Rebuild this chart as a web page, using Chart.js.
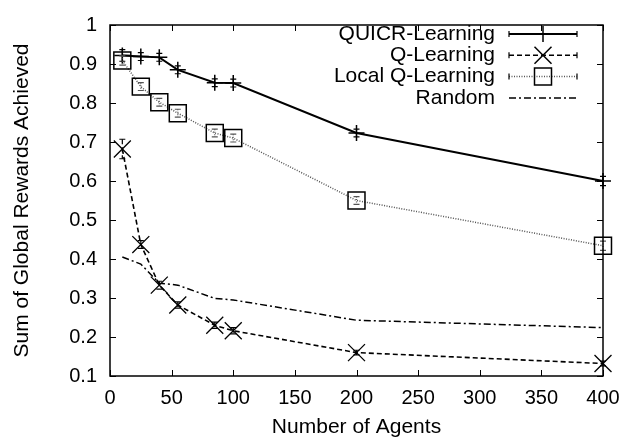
<!DOCTYPE html>
<html lang="en">
<head>
<meta charset="UTF-8">
<title>Global Rewards vs Number of Agents</title>
<script src="https://cdn.jsdelivr.net/npm/chart.js@4"></script>
<style>
    html, body { margin: 0; padding: 0; background: #fff; }
    #wrap { width: 644px; height: 440px; }
</style>
</head>
<body>
<div id="wrap"><canvas id="chart" width="644" height="440"></canvas></div>

<script>
    // values
    const agents = [10, 25, 40, 55, 85, 100, 200, 400];
    const quicr = [0.922, 0.919, 0.917, 0.885, 0.852, 0.851, 0.723, 0.600];
    const quicrErr = [0.015, 0.01, 0.01, 0.01, 0.01, 0.01, 0.01, 0.012];
    const qLearning = [0.682, 0.437, 0.333, 0.282, 0.230, 0.216, 0.160, 0.132];
    const qLearningErr = [0.025, 0.01, 0.01, 0.008, 0.008, 0.008, 0.006, 0.006];
    const localQ = [0.909, 0.842, 0.802, 0.774, 0.723, 0.710, 0.550, 0.434];
    const localQErr = [0.012, 0.01, 0.01, 0.01, 0.01, 0.01, 0.01, 0.012];
    const random = [0.405, 0.387, 0.338, 0.333, 0.299, 0.295, 0.243, 0.224];
    const seriesNames = ['QUICR-Learning', 'Q-Learning', 'Local Q-Learning', 'Random'];

    const FONT = '"Liberation Sans", Arial, Helvetica, sans-serif';

    function pts(vals) {
        return agents.map((a, i) => ({ x: a, y: vals[i] }));
    }

    function marker(ctx, style, x, y) {
        ctx.beginPath();
        if (style === 'cross') {
            ctx.moveTo(x - 8, y); ctx.lineTo(x + 8, y);
            ctx.moveTo(x, y - 8); ctx.lineTo(x, y + 8);
        } else if (style === 'crossRot') {
            ctx.moveTo(x - 8.5, y - 8.5); ctx.lineTo(x + 8.5, y + 8.5);
            ctx.moveTo(x + 8.5, y - 8.5); ctx.lineTo(x - 8.5, y + 8.5);
        } else if (style === 'rect') {
            ctx.rect(x - 8.5, y - 8.5, 17, 17);
        }
        ctx.stroke();
    }

    // error bars, drawn in the series' own line style
    const errorBars = {
        id: 'errorBars',
        afterDatasetsDraw(chart) {
            const ctx = chart.ctx;
            const xs = chart.scales.x, ys = chart.scales.y;
            ctx.save();
            chart.data.datasets.forEach(ds => {
                if (!ds.errors) return;
                ctx.strokeStyle = ds.borderColor;
                ctx.lineWidth = 1.2;
                ds.errors.forEach((e, i) => {
                    const px = xs.getPixelForValue(agents[i]);
                    const top = ys.getPixelForValue(ds.raw[i] + e);
                    const bot = ys.getPixelForValue(ds.raw[i] - e);
                    ctx.setLineDash(ds.borderDash);
                    ctx.beginPath();
                    ctx.moveTo(px, top); ctx.lineTo(px, bot);
                    ctx.stroke();
                    ctx.setLineDash([]);
                    ctx.beginPath();
                    ctx.moveTo(px - 3, top); ctx.lineTo(px + 3, top);
                    ctx.moveTo(px - 3, bot); ctx.lineTo(px + 3, bot);
                    ctx.stroke();
                });
            });
            ctx.restore();
        }
    };

    // border box with inward ticks on all four sides
    const frame = {
        id: 'frame',
        afterDraw(chart) {
            const ctx = chart.ctx;
            const a = chart.chartArea;
            const xs = chart.scales.x, ys = chart.scales.y;
            ctx.save();
            ctx.strokeStyle = '#000';
            ctx.lineWidth = 1.5;
            ctx.setLineDash([]);
            ctx.strokeRect(a.left, a.top, a.right - a.left, a.bottom - a.top);
            ctx.beginPath();
            xs.ticks.forEach(t => {
                const px = Math.round(xs.getPixelForValue(t.value)) + 0.5;
                ctx.moveTo(px, a.bottom); ctx.lineTo(px, a.bottom - 6);
                ctx.moveTo(px, a.top); ctx.lineTo(px, a.top + 6);
            });
            ys.ticks.forEach(t => {
                const py = Math.round(ys.getPixelForValue(t.value)) + 0.5;
                ctx.moveTo(a.left, py); ctx.lineTo(a.left + 6, py);
                ctx.moveTo(a.right, py); ctx.lineTo(a.right - 6, py);
            });
            ctx.lineWidth = 1;
            ctx.stroke();
            ctx.restore();
        }
    };

    // legend in the upper right, text on the left of the sample
    const keyBox = {
        id: 'keyBox',
        afterDraw(chart) {
            const ctx = chart.ctx;
            ctx.save();
            ctx.font = '21px ' + FONT;
            ctx.textAlign = 'right';
            ctx.textBaseline = 'middle';
            ctx.fillStyle = '#000';
            chart.data.datasets.forEach((ds, i) => {
                const y = 34 + i * 21.3;
                ctx.fillText(ds.label, 495, y);
                ctx.strokeStyle = ds.borderColor;
                ctx.lineWidth = ds.borderWidth;
                ctx.setLineDash(ds.borderDash || []);
                ctx.beginPath();
                ctx.moveTo(509, y); ctx.lineTo(577, y);
                ctx.stroke();
                ctx.setLineDash([]);
                ctx.strokeStyle = '#000';
                if (ds.errors) {
                    ctx.lineWidth = 1.2;
                    ctx.beginPath();
                    ctx.moveTo(509, y - 3); ctx.lineTo(509, y + 3);
                    ctx.moveTo(577, y - 3); ctx.lineTo(577, y + 3);
                    ctx.stroke();
                }
                if (ds.pointRadius > 0) {
                    ctx.lineWidth = 1.5;
                    marker(ctx, ds.pointStyle, 543, y);
                }
            });
            ctx.restore();
        }
    };

    const ctx = document.getElementById('chart').getContext('2d');
    new Chart(ctx, {
        type: 'line',
        data: {
            datasets: [
                {
                    label: seriesNames[0], data: pts(quicr), raw: quicr, errors: quicrErr,
                    borderColor: '#000', borderWidth: 2, borderDash: [],
                    pointStyle: 'cross', pointRadius: 8, pointBorderWidth: 1.5,
                    pointBorderColor: '#000', clip: false
                },
                {
                    label: seriesNames[1], data: pts(qLearning), raw: qLearning, errors: qLearningErr,
                    borderColor: '#000', borderWidth: 1.6, borderDash: [5, 3],
                    pointStyle: 'crossRot', pointRadius: 12, pointBorderWidth: 1.3,
                    pointBorderColor: '#000', clip: false
                },
                {
                    label: seriesNames[2], data: pts(localQ), raw: localQ, errors: localQErr,
                    borderColor: '#555', borderWidth: 1.5, borderDash: [1, 1.5],
                    pointStyle: 'rect', pointRadius: 12, pointBorderWidth: 1.5,
                    pointBorderColor: '#000', pointBackgroundColor: 'rgba(0,0,0,0)', clip: false
                },
                {
                    label: seriesNames[3], data: pts(random), raw: random,
                    borderColor: '#000', borderWidth: 1.5, borderDash: [7, 3, 2, 3],
                    pointRadius: 0, clip: false
                }
            ]
        },
        options: {
            responsive: false,
            animation: false,
            layout: { padding: { top: 17, right: 41, left: 0, bottom: 0 } },
            plugins: { legend: { display: false }, tooltip: { enabled: false } },
            elements: { line: { tension: 0, fill: false } },
            scales: {
                x: {
                    type: 'linear', min: 0, max: 400,
                    grid: { display: false, drawTicks: false },
                    border: { display: false },
                    ticks: { stepSize: 50, padding: 10, color: '#000', font: { family: FONT, size: 20 } },
                    title: { display: true, text: 'Number of Agents', color: '#000',
                             font: { family: FONT, size: 21 }, padding: { top: 0, bottom: 0 } },
                    afterFit(s) { s.height = 64; }
                },
                y: {
                    type: 'linear', min: 0.1, max: 1,
                    grid: { display: false, drawTicks: false },
                    border: { display: false },
                    ticks: { stepSize: 0.1, padding: 13, color: '#000', font: { family: FONT, size: 20 },
                             callback: v => String(Math.round(v * 10) / 10) },
                    title: { display: true, text: 'Sum of Global Rewards Achieved', color: '#000',
                             font: { family: FONT, size: 21 }, padding: { top: 10, bottom: 0 } },
                    afterFit(s) { s.width = 110; }
                }
            }
        },
        plugins: [errorBars, frame, keyBox]
    });
</script>
</body>
</html>
